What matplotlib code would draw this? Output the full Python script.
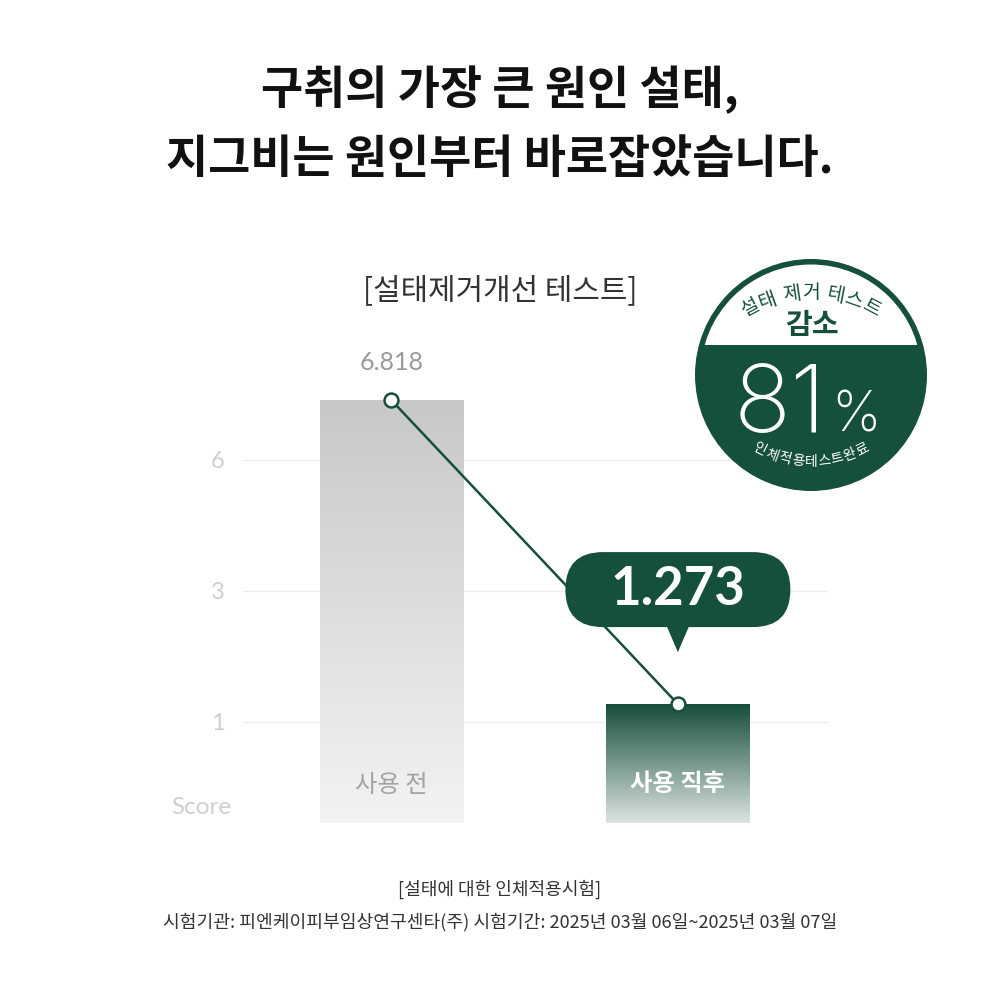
import numpy as np
import matplotlib
matplotlib.use("Agg")
import matplotlib.pyplot as plt
from matplotlib.patches import Circle, Rectangle, FancyBboxPatch, Polygon
from matplotlib.colors import LinearSegmentedColormap

# ---------------- data ----------------
categories = ["사용 전", "사용 직후"]
values = [6.818, 1.273]
value_labels = ["6.818", "1.273"]
y_ticks = [1, 3, 6]
y_tick_labels = ["1", "3", "6"]
y_axis_label = "Score"
title_lines = ["구취의 가장 큰 원인 설태,", "지그비는 원인부터 바로잡았습니다."]
subtitle = "[설태제거개선 테스트]"
badge_top_arc = "설태 제거 테스트"
badge_word = "감소"
badge_value = "81"
badge_unit = "%"
badge_bottom_arc = "인체적용테스트완료"
footer_lines = ["[설태에 대한 인체적용시험]",
                "시험기관: 피엔케이피부임상연구센타(주) 시험기간: 2025년 03월 06일~2025년 03월 07일"]

# ---------------- style ----------------
GREEN = "#15503b"
KR = ["Noto Sans CJK KR", "DejaVu Sans"]
NUM = ["Lato", "Noto Sans CJK KR", "DejaVu Sans"]
LIGHT = ["Inter", "Roboto", "DejaVu Sans"]
plt.rcParams["font.family"] = KR

# design scale: ticks evenly spaced (piecewise linear)
knots_v = [0, 1, 3, 6, 8]
knots_p = [0, 101, 232, 363, 509]
def fwd(v):
    return np.interp(v, knots_v, knots_p)
def inv(p):
    return np.interp(p, knots_p, knots_v)

fig = plt.figure(figsize=(10, 10), dpi=100)
fig.patch.set_facecolor("white")

def F(x, y):
    """figure pixel (y down) -> figure fraction"""
    return (x / 1000.0, 1 - y / 1000.0)

ax = fig.add_axes([0.243, 0.177, 0.585, 0.458])
ax.set_yscale("function", functions=(fwd, inv))
YMAX = 7.3
XMIN, XMAX = -0.518, 1.524
ax.set_xlim(XMIN, XMAX)
ax.set_ylim(0, YMAX)
for s in ax.spines.values():
    s.set_visible(False)
ax.set_xticks([])
ax.set_yticks(y_ticks)
ax.set_yticklabels(y_tick_labels, fontfamily=NUM, fontsize=17, color="#cfcfcf")
ax.tick_params(axis="y", length=0, pad=13)
ax.yaxis.set_minor_locator(matplotlib.ticker.NullLocator())
ax.grid(axis="y", color="#ececec", linewidth=0.9)
ax.set_axisbelow(True)

x = np.arange(len(categories))
bar_w = 0.5
grad_colors = [("#f3f3f3", "#c8c8c8"), ("#dbe4e0", "#164e3a")]

bars = ax.bar(x, values, width=bar_w, color="none", zorder=2)
for i, b in enumerate(bars):
    (x0, y0) = ax.transAxes.inverted().transform(ax.transData.transform((x[i] - bar_w / 2, 0)))
    (x1, y1) = ax.transAxes.inverted().transform(ax.transData.transform((x[i] + bar_w / 2, values[i])))
    cmap = LinearSegmentedColormap.from_list("g%d" % i, list(grad_colors[i]))
    grad = np.linspace(0, 1, 256).reshape(-1, 1)
    ax.imshow(grad, cmap=cmap, extent=[x0, x1, y0, y1], origin="lower",
              transform=ax.transAxes, aspect="auto", zorder=2, interpolation="bilinear")
ax.set_xlim(XMIN, XMAX)
ax.set_ylim(0, YMAX)
ax.set_aspect("auto")

# category labels inside bars
ax.text(x[0], inv(38), categories[0], ha="center", va="center",
        fontsize=17.5, color="#a3a3a3", zorder=5)
ax.text(x[1], inv(39), categories[1], ha="center", va="center",
        fontsize=17.5, color="white", fontweight="bold", zorder=5)

# line with markers
ax.plot(x, values, color=GREEN, linewidth=1.8, zorder=6,
        marker="o", markersize=10, markerfacecolor="white",
        markeredgecolor=GREEN, markeredgewidth=1.8)

# value label for first bar
ax.annotate(value_labels[0], (x[0], values[0]), xytext=(0, 26), textcoords="offset pixels",
            ha="center", va="bottom", fontsize=18, color="#9a9a9a", fontfamily=NUM)

# y axis label
fig.text(*F(201, 808), y_axis_label, ha="center", va="center", fontsize=17.5,
         color="#cfcfcf", fontfamily=NUM)

# speech bubble for second value
px, py = ax.transData.transform((x[1], values[1]))  # display px, y up
fx, fy = px / 1000.0, py / 1000.0
bw, bh = 0.225, 0.075
boff = 0.077
bub = FancyBboxPatch((fx - bw / 2, fy + boff), bw, bh,
                     boxstyle="round,pad=0,rounding_size=0.0375",
                     transform=fig.transFigure, facecolor=GREEN, edgecolor="none", zorder=10)
fig.add_artist(bub)
tri = Polygon([(fx - 0.011, fy + boff + 0.0005), (fx + 0.011, fy + boff + 0.0005), (fx, fy + boff - 0.025)],
              closed=True, transform=fig.transFigure, facecolor=GREEN, edgecolor="none", zorder=10)
fig.add_artist(tri)
fig.text(fx, fy + boff + bh / 2, value_labels[1], ha="center", va="center",
         fontsize=38, fontweight="bold", color="white", fontfamily=NUM, zorder=11)

# titles
fig.text(*F(500, 90), title_lines[0], ha="center", va="center", fontsize=33,
         fontweight="bold", color="#111111")
fig.text(*F(500, 160), title_lines[1], ha="center", va="center", fontsize=33,
         fontweight="bold", color="#111111")
fig.text(*F(500, 291), subtitle, ha="center", va="center", fontsize=21.5, color="#333333")

# footer
fig.text(*F(500, 889), footer_lines[0], ha="center", va="center", fontsize=13, color="#333333")
fig.text(*F(500, 922), footer_lines[1], ha="center", va="center", fontsize=13.1, color="#333333")

# ---------------- badge ----------------
cx, cy, R = 811, 375, 116
c_out = Circle(F(cx, cy), R / 1000.0, transform=fig.transFigure, facecolor=GREEN,
               edgecolor="none", zorder=20)
fig.add_artist(c_out)
clip_c = Circle(F(cx, cy), (R - 5.5) / 1000.0, transform=fig.transFigure)
top_white = Rectangle(F(cx - R, 345), 2 * R / 1000.0, (345 - (cy - R)) / 1000.0,
                      transform=fig.transFigure, facecolor="white", edgecolor="none", zorder=21)
top_white.set_clip_path(clip_c)
fig.add_artist(top_white)

def arc_text(s, ccx, ccy, rad, span_deg, top, fs, color, weight="normal", sp=0.4):
    widths = [sp if ch == " " else 1.0 for ch in s]
    centers = np.cumsum(widths) - np.array(widths) / 2
    centers = centers - (centers[0] + centers[-1]) / 2
    half = (centers[-1] - centers[0]) / 2
    for ch, c in zip(s, centers):
        if ch == " ":
            continue
        th = np.deg2rad(span_deg * c / half)
        if top:
            xx = ccx + rad * np.sin(th)
            yy = ccy - rad * np.cos(th)
            rot = -np.rad2deg(th)
        else:
            xx = ccx + rad * np.sin(th)
            yy = ccy + rad * np.cos(th)
            rot = np.rad2deg(th)
        fig.text(*F(xx, yy), ch, ha="center", va="center", rotation=rot,
                 rotation_mode="anchor", fontsize=fs, color=color, fontweight=weight, zorder=30)

arc_text(badge_top_arc, 811, 423, 130, 28, True, 14, GREEN, sp=0.3)
arc_text(badge_bottom_arc, 811, 350, 112, 27, False, 10, "white")

fig.text(*F(812, 325), badge_word, ha="center", va="center", fontsize=21,
         fontweight="bold", color=GREEN, zorder=30)
fig.text(*F(827, 432), badge_value, ha="right", va="baseline", fontsize=68,
         fontweight="light", color="white", fontfamily=LIGHT, zorder=30)
fig.text(*F(831, 432), badge_unit, ha="left", va="baseline", fontsize=40,
         fontweight="light", color="white", fontfamily=LIGHT, zorder=30)

fig.savefig("out.png", dpi=100, facecolor="white")
